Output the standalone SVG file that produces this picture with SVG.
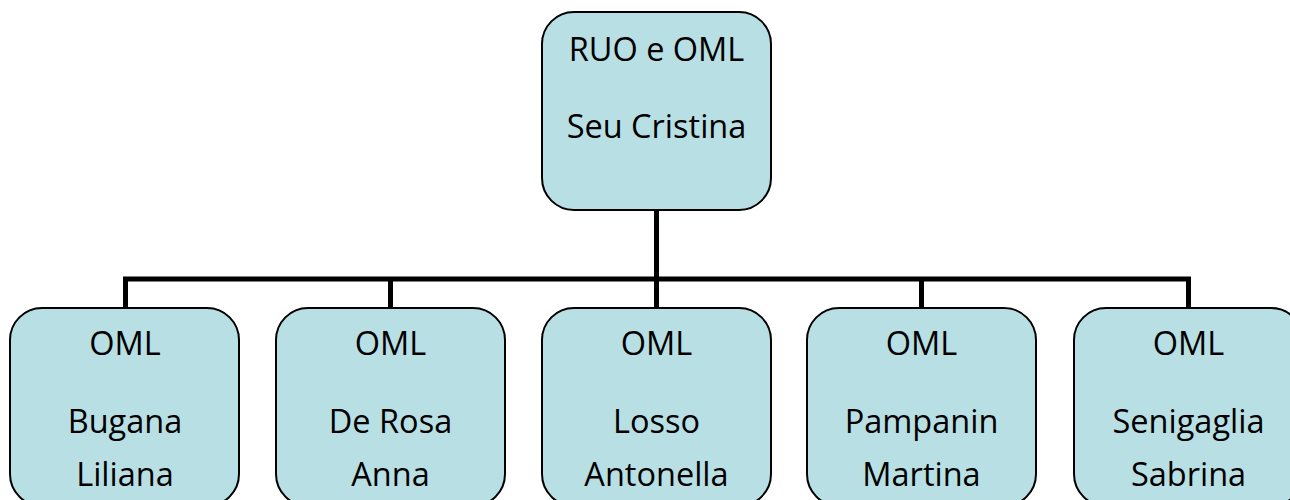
<svg xmlns="http://www.w3.org/2000/svg" width="1290" height="500" viewBox="0 0 1290 500">
<style>
.box{fill:#b8dfe3;stroke:#000;stroke-width:2}
.t{font-family:"Open Sans","Noto Sans",sans-serif;font-size:32.5px;fill:#000;text-anchor:middle}
.c{stroke:#000;stroke-width:5;fill:none}
</style>
<rect width="1290" height="500" fill="#fff"/>
<g id="connectors">
<path class="c" d="M656.5,210 V279 M125.5,279 H1188.5 M125.5,276.5 V308 M390.5,279 V308 M656.5,279 V308 M921.5,279 V308 M1188.5,276.5 V308"/>
</g>
<g id="top">
<rect class="box" x="542" y="12" width="229" height="198" rx="32"/>
<text class="t" x="656.5" y="61">RUO e OML</text>
<text class="t" x="656.5" y="138">Seu Cristina</text>
</g>
<g id="n1">
<rect class="box" x="10" y="308" width="229" height="198" rx="32"/>
<text class="t" x="125" y="355">OML</text>
<text class="t" x="125" y="433">Bugana</text>
<text class="t" x="125" y="486">Liliana</text>
</g>
<g id="n2">
<rect class="box" x="276" y="308" width="229" height="198" rx="32"/>
<text class="t" x="390.5" y="355">OML</text>
<text class="t" x="390.5" y="433">De Rosa</text>
<text class="t" x="390.5" y="486">Anna</text>
</g>
<g id="n3">
<rect class="box" x="542" y="308" width="229" height="198" rx="32"/>
<text class="t" x="656.5" y="355">OML</text>
<text class="t" x="656.5" y="433">Losso</text>
<text class="t" x="656.5" y="486">Antonella</text>
</g>
<g id="n4">
<rect class="box" x="807" y="308" width="229" height="198" rx="32"/>
<text class="t" x="921.5" y="355">OML</text>
<text class="t" x="921.5" y="433">Pampanin</text>
<text class="t" x="921.5" y="486">Martina</text>
</g>
<g id="n5">
<rect class="box" x="1074" y="308" width="229" height="198" rx="32"/>
<text class="t" x="1188.5" y="355">OML</text>
<text class="t" x="1188.5" y="433">Senigaglia</text>
<text class="t" x="1188.5" y="486">Sabrina</text>
</g>
</svg>
